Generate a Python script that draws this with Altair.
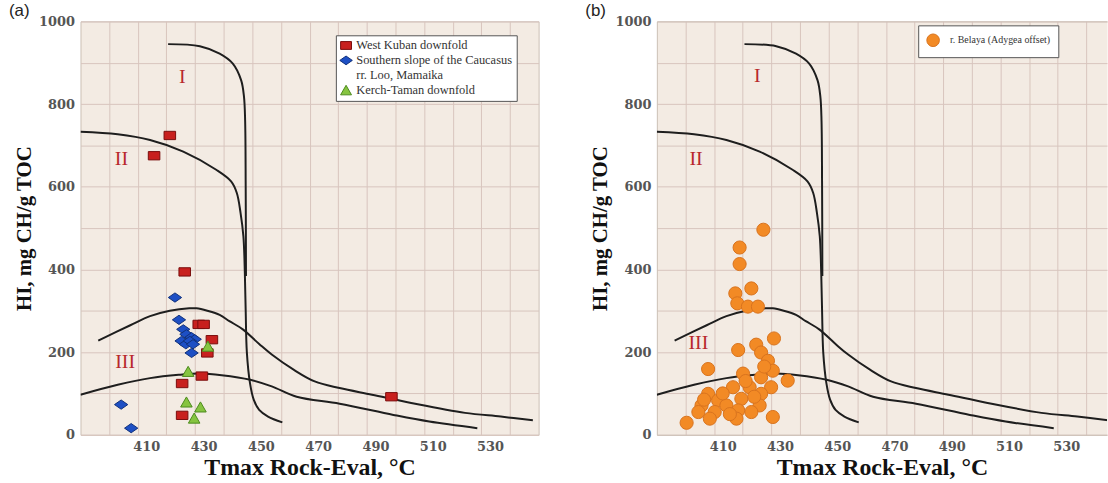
import altair as alt
import pandas as pd

# Kerogen-type boundary curves: Tmax (°C) against HI (mg CH/g TOC)
CURVE_I_T = [417.6, 428.7, 435.6, 440.2, 443.1, 444.1, 444.5, 444.7, 444.8]
CURVE_I_HI = [945, 940, 922, 898, 858, 818, 761, 600, 384]

CURVE_II_T = [387.0, 400.0, 411.3, 422.9, 434.4, 439.6, 441.6, 442.9, 443.9,
              444.4, 444.7, 445.1, 446.2, 447.5, 449.4, 452.5, 457.5]
CURVE_II_HI = [733, 727, 713, 685, 641, 613, 585, 537, 480,
               392, 300, 200, 125, 85, 60, 44, 30]

CURVE_III_UP_T = [393.2, 404.4, 411.3, 418.2, 425.0, 427.5, 431.3, 435.6, 439.0, 443.7,
                  449.5, 453.8, 461.3, 468.8, 477.5, 488.8, 502.5, 521.3, 533.8, 545.0]
CURVE_III_UP_HI = [228, 265, 287, 300, 306, 306, 300, 290, 275, 255,
                   219, 194, 158, 129, 113, 97, 77, 53, 44, 35]

CURVE_III_LOW_T = [387.0, 400.0, 411.3, 421.3, 428.8, 436.3, 446.3, 453.8, 462.5,
                   477.5, 496.3, 508.8, 525.6]
CURVE_III_LOW_HI = [97, 121, 137, 145, 148, 144, 133, 117, 92, 75, 48, 32, 16]

# Panel (a) samples
WK_NAME = "West Kuban downfold"
WK_T = [418.2, 412.7, 423.4, 428.3, 430.0, 432.9, 431.3, 429.4, 422.5, 422.5, 495.6]
WK_HI = [724, 675, 394, 267, 267, 230, 198, 142, 124, 47, 92]

SS_NAME = "Southern slope of the Caucasus|rr. Loo,  Mamaika"
SS_T = [420.0, 421.4, 422.9, 424.0, 425.8, 426.9, 422.3, 423.8, 425.2, 426.3, 425.8, 401.2, 404.7]
SS_HI = [332, 278, 255, 243, 236, 231, 227, 219, 227, 219, 198, 73, 16]

KT_NAME = "Kerch-Taman downfold"
KT_T = [431.5, 424.6, 424.0, 428.9, 426.7]
KT_HI = [214, 153, 79, 67, 40]

# Panel (b) samples
BEL_NAME = "r. Belaya (Adygea offset)"
BEL_T = [424.2, 415.9, 415.9, 420.0, 414.4, 415.1, 418.8, 422.3, 427.9, 421.7,
         415.4, 423.4, 425.8, 404.9, 417.1, 427.5, 423.4, 432.7, 413.6, 419.4,
         426.9, 404.9, 423.4, 408.4, 416.5, 402.6, 411.3, 422.9, 401.5, 407.2,
         415.4, 420.0, 405.5, 414.8, 427.5, 397.4, 424.5, 418.0, 410.0, 421.0,
         412.5, 403.5]
BEL_HI = [496, 453, 413, 354, 342, 318, 310, 310, 233, 218,
          205, 199, 179, 159, 148, 155, 139, 131, 115, 115,
          115, 99, 99, 83, 87, 71, 71, 71, 55, 55,
          59, 55, 39, 39, 43, 29, 165, 130, 100, 92,
          50, 85]

# Kerogen type zone labels
ZONE_TEXT = ["I", "II", "III"]
ZONE_A_T = [422.6, 401.3, 402.6]
ZONE_A_HI = [866, 668, 175]
ZONE_B_T = [422.1, 400.7, 401.5]
ZONE_B_HI = [869, 667, 221]

# Axis ticks
X_LABELS = [410, 430, 450, 470, 490, 510, 530]
X_GRID = [397, 407, 417, 427, 437, 447, 457, 467, 477, 487, 497, 507, 517, 527, 537]
Y_GRID = [0, 100, 200, 300, 400, 500, 600, 700, 800, 900, 1000]

SERIF = "Liberation Serif"
NUM_FONT = "DejaVu Serif"
FRAME = "#cbbfb5"


def curves_frame():
    rows = []
    for name, ts, hs in [("I", CURVE_I_T, CURVE_I_HI),
                         ("II", CURVE_II_T, CURVE_II_HI),
                         ("III_up", CURVE_III_UP_T, CURVE_III_UP_HI),
                         ("III_low", CURVE_III_LOW_T, CURVE_III_LOW_HI)]:
        for i, (t, h) in enumerate(zip(ts, hs)):
            rows.append({"curve": name, "seq": i, "T": t, "HI": h})
    return pd.DataFrame(rows)


def series_frame(field, groups):
    rows = []
    for name, ts, hs in groups:
        for t, h in zip(ts, hs):
            rows.append({field: name, "T": t, "HI": h})
    return pd.DataFrame(rows)


def panel(points_layer_fn, zone_t, zone_hi, width, x_max, label, boxed):
    # boxed panels get a full frame; the open one is drawn with axis domain lines
    # on the left, bottom and top only
    xs = alt.Scale(domain=[387, x_max], nice=False, zero=False)
    ys = alt.Scale(domain=[0, 1000], nice=False, zero=True)
    edge = not boxed

    y_enc = alt.Y("HI:Q", scale=ys, title="HI, mg CH/g TOC",
                  axis=alt.Axis(values=Y_GRID, grid=True, ticks=False, domain=edge,
                                domainColor=FRAME,
                                labelExpr="datum.value % 200 === 0 ? format(datum.value, 'd') : ''"))
    x_lab = alt.X("T:Q", scale=xs, title="Tmax Rock-Eval, °C",
                  axis=alt.Axis(values=X_LABELS, grid=False, ticks=False, domain=edge,
                                domainColor=FRAME))
    x_grid = alt.X("T:Q", scale=xs, title=None,
                   axis=alt.Axis(orient="top", values=X_GRID, grid=True, labels=False,
                                 ticks=False, domain=edge, domainColor=FRAME))
    x_none = alt.X("T:Q", scale=xs, axis=None)

    curves = alt.Chart(curves_frame()).mark_line(
        color="#1e1e1e", strokeWidth=2, clip=True, interpolate="catmull-rom"
    ).encode(x=x_lab, y=y_enc, detail="curve:N", order="seq:Q")

    zones = alt.Chart(pd.DataFrame({"zone": ZONE_TEXT, "T": zone_t, "HI": zone_hi})).mark_text(
        font=SERIF, fontSize=20, color="#b8282c", align="center", baseline="middle"
    ).encode(x=x_grid, y=y_enc, text="zone:N")

    pts = points_layer_fn(x_none, y_enc)

    return alt.layer(curves, zones, pts).resolve_axis(x="independent").properties(
        width=width, height=416,
        title=alt.Title(label, anchor="start", frame="group", font="Liberation Sans",
                        fontSize=17, fontWeight="normal", color="#222",
                        dx=-72, dy=9, offset=4),
        view=alt.ViewBackground(fill="#f3ebe3", stroke=FRAME if boxed else "transparent",
                                strokeWidth=1),
    )


def points_a(x_enc, y_enc):
    df = series_frame("series", [(WK_NAME, WK_T, WK_HI),
                                 (SS_NAME, SS_T, SS_HI),
                                 (KT_NAME, KT_T, KT_HI)])
    names = [WK_NAME, SS_NAME, KT_NAME]
    legend = alt.Legend(orient="none", legendX=257, legendY=14, title=None,
                        fillColor="white", strokeColor="#555", padding=4,
                        labelFont=SERIF, labelFontSize=12.5, labelColor="#333",
                        labelLimit=400, labelOffset=4,
                        symbolSize=120, symbolStrokeWidth=1, rowPadding=1,
                        labelExpr="split(datum.label, '|')")
    shapes = ["M-1,-0.72H1V0.72H-1Z",
              "M-1.15,0L0,-0.8L1.15,0L0,0.8Z",
              "M0,-0.9L1,0.85H-1Z"]
    return alt.Chart(df).mark_point(filled=True, size=135, strokeWidth=1, opacity=1).encode(
        x=x_enc, y=y_enc,
        fill=alt.Fill("series:N", scale=alt.Scale(domain=names, range=["#c8201e", "#1d4fc4", "#86c440"]),
                      legend=legend),
        stroke=alt.Stroke("series:N", scale=alt.Scale(domain=names, range=["#7a0d0d", "#10307a", "#4c8a1c"]),
                          legend=legend),
        shape=alt.Shape("series:N", scale=alt.Scale(domain=names, range=shapes), legend=legend),
    )


def points_b(x_enc, y_enc):
    df = series_frame("site", [(BEL_NAME, BEL_T, BEL_HI)])
    legend = alt.Legend(orient="none", legendX=263, legendY=4, title=None,
                        fillColor="white", strokeColor="#555", padding=8,
                        labelFont=SERIF, labelFontSize=10, labelColor="#333",
                        labelLimit=400,
                        symbolSize=160, symbolStrokeWidth=1, labelOffset=10)
    return alt.Chart(df).mark_point(filled=True, size=175, strokeWidth=1, opacity=1, shape="circle").encode(
        x=x_enc, y=y_enc,
        fill=alt.Fill("site:N", scale=alt.Scale(domain=[BEL_NAME], range=["#f28a25"]), legend=legend),
        stroke=alt.Stroke("site:N", scale=alt.Scale(domain=[BEL_NAME], range=["#d8731e"]), legend=legend),
    )


panel_a = panel(points_a, ZONE_A_T, ZONE_A_HI, 461, 547, "(a)", True)
panel_b = panel(points_b, ZONE_B_T, ZONE_B_HI, 453, 544.2, "(b)", False)

chart = alt.hconcat(panel_a, panel_b, spacing=45).resolve_scale(
    fill="independent", stroke="independent", shape="independent"
).properties(padding={"left": 8, "top": 0, "right": 0, "bottom": 0}).configure_axis(
    labelFont=NUM_FONT, labelFontWeight="bold", labelFontSize=13, labelColor="#555",
    labelPadding=6, titleFont=SERIF, titleFontWeight="bold", titleColor="#111",
    gridColor="#d8c5bd", gridWidth=1, gridOpacity=1,
).configure_axisY(titleFontSize=21, titlePadding=4).configure_axisX(
    titleFontSize=24, titlePadding=2
)

chart.save("out.html", embed_options={"renderer": "svg", "actions": False})
